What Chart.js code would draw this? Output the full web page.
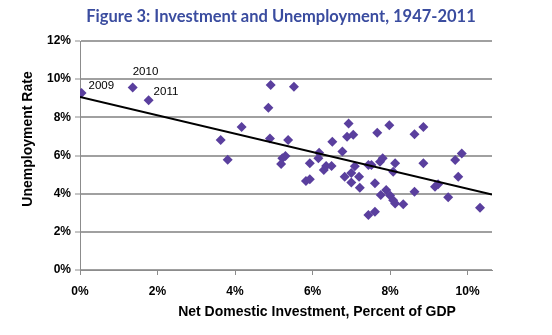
<!DOCTYPE html>
<html>
<head>
<meta charset="utf-8">
<script src="https://cdn.jsdelivr.net/npm/chart.js@4.4.1/dist/chart.umd.min.js"></script>
<style>
html,body{margin:0;padding:0;background:#fff;}
#wrap{width:552px;height:335px;position:relative;}
</style>
</head>
<body>
<div id="wrap"><canvas id="c" width="552" height="335"></canvas></div>
<script>
// ---- data ----
const chartTitle = 'Figure 3: Investment and Unemployment, 1947-2011';
const xAxisTitle = 'Net Domestic Investment, Percent of GDP';
const yAxisTitle = 'Unemployment Rate';
const xTickValues = [0, 2, 4, 6, 8, 10];
const yTickValues = [0, 2, 4, 6, 8, 10, 12];
const investment = [0.04,1.36,1.77,3.63,3.81,4.17,4.92,5.52,4.86,4.90,5.37,5.30,5.22,5.19,5.93,5.83,5.93,6.17,6.15,6.29,6.35,6.49,6.51,6.77,6.93,6.89,7.05,6.83,7.00,7.09,7.00,7.20,7.22,7.44,7.52,7.61,7.74,7.81,7.67,7.98,7.44,7.61,7.76,7.90,8.00,8.08,8.13,8.34,8.13,8.08,8.63,8.86,8.86,9.68,9.85,9.76,9.16,9.24,8.63,9.50,10.32];
const unemployment = [9.28,9.56,8.90,6.81,5.78,7.49,9.69,9.60,8.50,6.89,6.81,5.97,5.85,5.55,5.59,4.66,4.75,6.14,5.85,5.24,5.45,5.45,6.72,6.21,7.68,6.98,7.09,4.88,5.08,5.44,4.58,4.88,4.31,5.50,5.50,4.54,5.67,5.85,7.19,7.59,2.88,3.05,3.93,4.19,3.90,3.66,3.49,3.45,5.59,5.15,7.12,7.50,5.59,5.76,6.11,4.88,4.36,4.50,4.10,3.81,3.26];
const yearLabels = ['2009', '2010', '2011'];
const trendX = [0, 10.63];
const trendY = [9.07, 3.96];
const xMax = 10.63;
const yMax = 12;

const scatterData = investment.map((x, i) => ({x: x, y: unemployment[i]}));
const trendData = trendX.map((x, i) => ({x: x, y: trendY[i]}));

const labelFont = '"Liberation Sans Narrow", "Liberation Sans", Arial, sans-serif';
const tickFont = '"Liberation Sans", Arial, sans-serif';

const textPlugin = {
  id: 'texts',
  afterDraw(chart) {
    const ctx = chart.ctx;
    const xs = chart.scales.x, ys = chart.scales.y;
    ctx.save();
    // title
    ctx.fillStyle = '#3a4c9f';
    ctx.font = 'bold 16.5px Lato, "Noto Sans", sans-serif';
    ctx.textAlign = 'center';
    ctx.textBaseline = 'middle';
    ctx.fillText(chartTitle, 281, 17);
    // axis titles
    ctx.fillStyle = '#000';
    ctx.font = 'bold 14px ' + labelFont;
    ctx.fillText(xAxisTitle, 317, 312);
    ctx.save();
    ctx.translate(28, 139);
    ctx.rotate(-Math.PI / 2);
    ctx.fillText(yAxisTitle, 0, 0);
    ctx.restore();
    // year labels
    const offs = [[7, -7], [0, -16], [5, -8.5]];
    ctx.font = '11.5px ' + tickFont;
    ctx.textAlign = 'left';
    yearLabels.forEach((t, i) => {
      const px = xs.getPixelForValue(investment[i]);
      const py = ys.getPixelForValue(unemployment[i]);
      ctx.fillText(t, px + offs[i][0], py + offs[i][1]);
    });
    ctx.restore();
  }
};

new Chart(document.getElementById('c'), {
  type: 'scatter',
  data: {
    datasets: [
      {
        data: trendData,
        showLine: true,
        borderColor: '#000',
        borderWidth: 2,
        pointRadius: 0,
        fill: false
      },
      {
        data: scatterData,
        pointStyle: 'rectRot',
        pointRadius: 5,
        backgroundColor: '#5a3f9e',
        borderColor: '#5a3f9e',
        borderWidth: 0
      }
    ]
  },
  options: {
    responsive: false,
    animation: false,
    devicePixelRatio: 1,
    layout: {padding: {top: 41, right: 60, left: 0, bottom: 0}},
    plugins: {legend: {display: false}, tooltip: {enabled: false}, title: {display: false}},
    scales: {
      x: {
        type: 'linear',
        min: 0,
        max: xMax,
        afterBuildTicks: s => { s.ticks = xTickValues.map(v => ({value: v})); },
        afterFit: s => { s.height = 65; },
        ticks: {
          callback: v => v + '%',
          color: '#000',
          font: {family: tickFont, size: 12, weight: 'bold'},
          padding: 9,
          maxRotation: 0
        },
        grid: {drawOnChartArea: false, drawTicks: true, tickLength: 5, color: '#8c8c8c', lineWidth: 1},
        border: {display: true, color: '#8c8c8c', width: 1}
      },
      y: {
        type: 'linear',
        min: 0,
        max: yMax,
        afterBuildTicks: s => { s.ticks = yTickValues.map(v => ({value: v})); },
        afterFit: s => { s.width = 80; },
        ticks: {
          callback: v => v + '%',
          color: '#000',
          font: {family: tickFont, size: 12, weight: 'bold'},
          padding: 4
        },
        grid: {color: '#a0a0a0', lineWidth: 2, tickLength: 5, tickColor: '#8c8c8c', tickWidth: 1},
        border: {display: true, color: '#8c8c8c', width: 1}
      }
    }
  },
  plugins: [textPlugin]
});
</script>
</body>
</html>
